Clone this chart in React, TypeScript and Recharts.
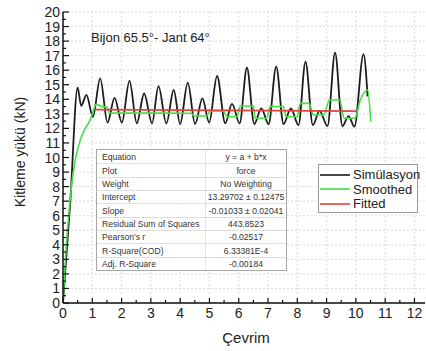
import React from 'react';
import { LineChart, Line, XAxis, YAxis, CartesianGrid, Legend } from 'recharts';

const FONT = '"Liberation Sans", Arial, Helvetica, sans-serif';

// Simülasyon (black) — extrema
const simX = [0, 0.25, 0.5, 0.62, 0.8, 1.02, 1.27, 1.52, 1.76, 2.01, 2.27, 2.52, 2.77, 3.04, 3.26, 3.53, 3.78, 4.0, 4.26, 4.51, 4.76, 4.99, 5.26, 5.54, 5.77, 6.03, 6.28, 6.53, 6.77, 7.02, 7.28, 7.53, 7.78, 8.04, 8.28, 8.53, 8.76, 9.03, 9.29, 9.54, 9.75, 9.95, 10.26, 10.4];
const simY = [0, 7.0, 14.8, 13.55, 14.3, 12.8, 15.44, 12.4, 14.1, 12.4, 15.26, 12.35, 14.4, 12.35, 14.9, 12.35, 14.64, 12.3, 15.14, 12.3, 14.07, 12.4, 15.6, 12.35, 13.68, 12.35, 16.17, 12.3, 13.38, 12.3, 16.24, 12.3, 13.38, 12.23, 16.59, 12.23, 13.2, 12.16, 17.2, 12.16, 12.85, 12.12, 17.1, 14.2];

// Smoothed (green)
const smoothX = [0, 0.08, 0.19, 0.28, 0.42, 0.59, 0.76, 0.93, 1.05, 1.13, 1.33, 1.5, 1.58, 2.5, 3.5, 4.35, 4.5, 4.9, 5.03, 5.47, 5.6, 5.94, 6.05, 6.5, 6.56, 6.96, 7.07, 7.52, 7.62, 8.0, 8.1, 8.4, 8.55, 8.9, 9.1, 9.45, 9.6, 9.97, 10.15, 10.4, 10.51];
const smoothY = [0, 2.96, 5.93, 7.88, 9.83, 11.2, 12.0, 12.6, 13.3, 13.66, 13.5, 13.45, 13.06, 13.05, 13.05, 13.04, 12.86, 12.85, 13.2, 13.2, 12.8, 12.8, 13.54, 13.54, 12.7, 12.7, 13.5, 13.5, 12.8, 12.8, 13.72, 13.72, 12.92, 12.92, 13.95, 13.95, 12.7, 12.7, 13.95, 14.64, 12.46];

// Fitted (red)
const fitX = [1.1, 10.0];
const fitY = [13.29, 13.19];

const xMinorTicks = [0, 0.5, 1, 1.5, 2, 2.5, 3, 3.5, 4, 4.5, 5, 5.5, 6, 6.5, 7, 7.5, 8, 8.5, 9, 9.5, 10, 10.5, 11, 11.5, 12];
const xMajorTicks = [0, 1, 2, 3, 4, 5, 6, 7, 8, 9, 10, 11, 12];
const yMinorTicks = [0, 0.5, 1, 1.5, 2, 2.5, 3, 3.5, 4, 4.5, 5, 5.5, 6, 6.5, 7, 7.5, 8, 8.5, 9, 9.5, 10, 10.5, 11, 11.5, 12, 12.5, 13, 13.5, 14, 14.5, 15, 15.5, 16, 16.5, 17, 17.5, 18, 18.5, 19, 19.5, 20];
const yMajorTicks = [0, 1, 2, 3, 4, 5, 6, 7, 8, 9, 10, 11, 12, 13, 14, 15, 16, 17, 18, 19, 20];

const statLabels = ['Equation', 'Plot', 'Weight', 'Intercept', 'Slope', 'Residual Sum of Squares', "Pearson's r", 'R-Square(COD)', 'Adj. R-Square'];
const statValues = ['y = a + b*x', 'force', 'No Weighting', '13.29702 \u00b1 0.12475', '-0.01033 \u00b1 0.02041', '443.8523', '-0.02517', '6.33381E-4', '-0.00184'];

const seriesNames = ['Simülasyon', 'Smoothed', 'Fitted'];
const seriesColors = ['#1c1c1c', '#45e045', '#e8403a'];

const zip = (xs: number[], ys: number[]) => xs.map((x, i) => ({ x, y: ys[i] }));
const simData = zip(simX, simY);
const smoothData = zip(smoothX, smoothY);
const fitData = zip(fitX, fitY);

const isMajor = (v: number) => Math.abs(v - Math.round(v)) < 1e-6;

const BottomTick = (props: any) => {
  const { x, y, payload } = props;
  const v = payload.value;
  const major = isMajor(v);
  return (
    <g>
      <line x1={x} y1={y} x2={x} y2={y - (major ? 5 : 3)} stroke="#111" strokeWidth={1.2} />
      {major && (
        <text x={x} y={y + 15} textAnchor="middle" fontSize={14} fill="#222" fontFamily={FONT}>{v}</text>
      )}
    </g>
  );
};

const TopTick = (props: any) => {
  const { x, y, payload } = props;
  const major = isMajor(payload.value);
  return <line x1={x} y1={y} x2={x} y2={y + (major ? 5 : 3)} stroke="#111" strokeWidth={1.2} />;
};

const LeftTick = (props: any) => {
  const { x, y, payload } = props;
  const v = payload.value;
  const major = isMajor(v);
  return (
    <g>
      <line x1={x} y1={y} x2={x + (major ? 6 : 3)} y2={y} stroke="#111" strokeWidth={1.2} />
      {major && (
        <text x={x - 3} y={y + 5} textAnchor="end" fontSize={14} fill="#222" fontFamily={FONT}>{v}</text>
      )}
    </g>
  );
};

const RightTick = (props: any) => {
  const { x, y } = props;
  return <line x1={x - 4} y1={y} x2={x} y2={y} stroke="#111" strokeWidth={1.2} />;
};

const LegendBox = () => (
  <div style={{ width: 98, height: 47, border: '1px solid #9a9a9a', background: '#fff', fontFamily: FONT, fontSize: 13, color: '#222', position: 'relative' }}>
    {seriesNames.map((name, i) => (
      <div key={name} style={{ position: 'absolute', left: 0, top: 2 + i * 14.6, height: 15, display: 'flex', alignItems: 'center' }}>
        <svg width={30} height={4} style={{ marginLeft: 1, marginRight: 3 }}>
          <line x1={0} y1={2} x2={30} y2={2} stroke={seriesColors[i]} strokeWidth={1.6} />
        </svg>
        <span style={{ lineHeight: '15px', whiteSpace: 'nowrap' }}>{name}</span>
      </div>
    ))}
  </div>
);

export default function App() {
  return (
    <div style={{ position: 'absolute', left: 0, top: 0, width: 426, height: 351, background: '#fff' }}>
      <LineChart width={426} height={351} margin={{ top: 12, right: 1, bottom: 18, left: 13 }}>
        <CartesianGrid stroke="#dcdcdc" strokeDasharray="2 2" verticalValues={xMajorTicks} horizontalValues={yMajorTicks} />
        <XAxis
          dataKey="x"
          type="number"
          domain={[0, 12.36]}
          ticks={xMinorTicks}
          interval={0}
          height={30}
          tickSize={0}
          tickMargin={0}
          tickLine={false}
          tick={<BottomTick />}
          axisLine={{ stroke: '#111', strokeWidth: 1.5 }}
          allowDataOverflow
          label={{
            content: () => (
              <text x={246} y={343} textAnchor="middle" fontSize={15} fill="#222" fontFamily={FONT}>Çevrim</text>
            ),
          }}
        />
        <XAxis
          xAxisId="t"
          dataKey="x"
          type="number"
          orientation="top"
          domain={[0, 12.36]}
          ticks={xMinorTicks}
          interval={0}
          height={0}
          tickSize={0}
          tickMargin={0}
          tickLine={false}
          tick={<TopTick />}
          axisLine={{ stroke: '#111', strokeWidth: 1.5 }}
          allowDataOverflow
        />
        <YAxis
          type="number"
          domain={[0, 20]}
          ticks={yMinorTicks}
          interval={0}
          width={50}
          tickSize={0}
          tickMargin={0}
          tickLine={false}
          tick={<LeftTick />}
          axisLine={{ stroke: '#111', strokeWidth: 1.5 }}
          allowDataOverflow
          label={{
            content: () => (
              <text x={20} y={152} transform="rotate(-90 20 152)" textAnchor="middle" dominantBaseline="central" fontSize={14} fill="#222" fontFamily={FONT}>Kitleme yükü (kN)</text>
            ),
          }}
        />
        <YAxis
          yAxisId="r"
          type="number"
          orientation="right"
          domain={[0, 20]}
          ticks={yMajorTicks}
          interval={0}
          width={0}
          tickSize={0}
          tickMargin={0}
          tickLine={false}
          tick={<RightTick />}
          axisLine={{ stroke: '#111', strokeWidth: 1.5 }}
          allowDataOverflow
        />
        <Legend
          layout="vertical"
          align="center"
          verticalAlign="middle"
          content={<LegendBox />}
          wrapperStyle={{ left: 318, top: 164, width: 100, height: 49 }}
        />
        <Line data={simData} dataKey="y" name={seriesNames[0]} type="monotone" stroke={seriesColors[0]} strokeWidth={1.8} dot={false} activeDot={false} isAnimationActive={false} />
        <Line data={smoothData} dataKey="y" name={seriesNames[1]} type="monotone" stroke={seriesColors[1]} strokeWidth={1.6} dot={false} activeDot={false} isAnimationActive={false} />
        <Line data={fitData} dataKey="y" name={seriesNames[2]} type="linear" stroke={seriesColors[2]} strokeWidth={1.6} dot={false} activeDot={false} isAnimationActive={false} />
      </LineChart>
      <div style={{ position: 'absolute', left: 91, top: 31, fontFamily: FONT, fontSize: 13, lineHeight: '14px', color: '#222', whiteSpace: 'nowrap' }}>
        Bijon 65.5°- Jant 64°
      </div>
      <div style={{ position: 'absolute', left: 96, top: 149, width: 189, height: 120, border: '1px solid #a8a8a8', background: '#fff', fontFamily: FONT, fontSize: 8.6, color: '#333' }}>
        {statLabels.map((l, i) => (
          <div key={i} style={{ position: 'absolute', left: 0, top: i * 13.35, width: 189, height: 13.35, borderTop: i === 0 ? 'none' : '1px solid #dedede', boxSizing: 'border-box', display: 'flex', alignItems: 'center' }}>
            <div style={{ width: 109, paddingLeft: 5, boxSizing: 'border-box', whiteSpace: 'nowrap', borderRight: '1px solid #e4e4e4', height: '100%', display: 'flex', alignItems: 'center' }}>{l}</div>
            <div style={{ width: 80, textAlign: 'center', whiteSpace: 'nowrap' }}>{statValues[i]}</div>
          </div>
        ))}
      </div>
    </div>
  );
}
